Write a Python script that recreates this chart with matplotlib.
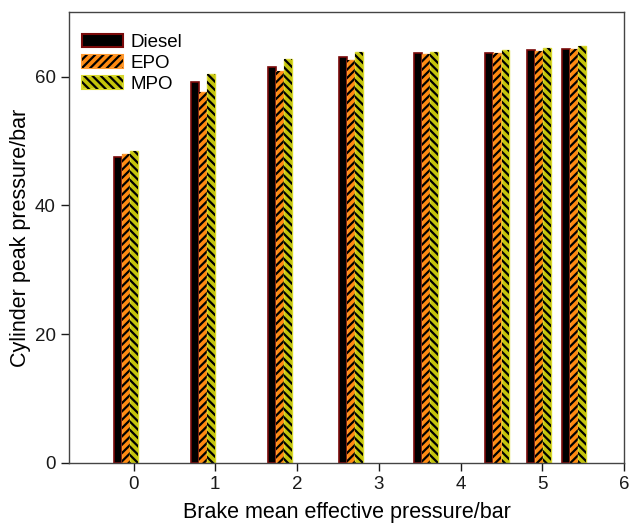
import numpy as np
import matplotlib.pyplot as plt
from matplotlib.patches import Patch
from matplotlib.legend_handler import HandlerTuple

plt.rcParams['font.family'] = ['Liberation Sans', 'DejaVu Sans']
plt.rcParams['hatch.linewidth'] = 1.6

# brake mean effective pressure positions of each group
bmep = np.array([-0.09, 0.85, 1.79, 2.66, 3.58, 4.45, 4.96, 5.39])

# cylinder peak pressure (bar)
diesel = np.array([47.5, 59.2, 61.5, 63.0, 63.6, 63.7, 64.1, 64.3])
epo = np.array([48.0, 57.6, 60.9, 62.6, 63.5, 63.6, 64.0, 64.3])
mpo = np.array([48.5, 60.4, 62.8, 63.8, 63.9, 64.2, 64.4, 64.7])

w = 0.095

fig = plt.figure(figsize=(6.3, 5.24), dpi=100)
ax = fig.add_axes([0.1095, 0.117, 0.881, 0.8595])

# Diesel: solid black bars with dark red outline
ax.bar(bmep - 0.1, diesel, w, color='black', edgecolor='#7a0a0a', linewidth=1.2)
# EPO: orange with hatch
ax.bar(bmep, epo, w, color='#ff8a10', edgecolor='#ff9a30', linewidth=1.0)
ax.bar(bmep, epo, w, color='none', edgecolor='black', linewidth=0, hatch='////')
# MPO: yellow-green with back hatch
ax.bar(bmep + 0.1, mpo, w, color='#c4c40a', edgecolor='#d8d830', linewidth=1.0)
ax.bar(bmep + 0.1, mpo, w, color='none', edgecolor='black', linewidth=0, hatch='\\\\\\\\')

ax.set_xlim(-0.79, 6)
ax.set_ylim(0, 70)
ax.set_xticks(range(7))
ax.set_yticks([0, 20, 40, 60])
ax.tick_params(direction='out', length=6, width=1, labelsize=13.5, colors='#1a1a1a', pad=3.5)
for s in ax.spines.values():
    s.set_color('#444444')
    s.set_linewidth(1)

ax.set_xlabel('Brake mean effective pressure/bar', fontsize=15.5, labelpad=6.5)
ax.set_ylabel('Cylinder peak pressure/bar', fontsize=15.5, labelpad=3)

# legend keys: coloured patch with a black hatch layered on top
handles = [
    Patch(facecolor='black', edgecolor='#7a0a0a', linewidth=1.5),
    (Patch(facecolor='#ff8a10', edgecolor='#ff9a30', linewidth=1.5),
     Patch(facecolor='none', edgecolor='black', linewidth=0, hatch='////')),
    (Patch(facecolor='#c4c40a', edgecolor='#d8d830', linewidth=1.5),
     Patch(facecolor='none', edgecolor='black', linewidth=0, hatch='\\\\\\\\')),
]
ax.legend(handles, ['Diesel', 'EPO', 'MPO'], loc='upper left',
          bbox_to_anchor=(0, 0.982), frameon=False,
          fontsize=13.5, handlelength=2.2, handleheight=0.72, borderaxespad=0.3,
          labelspacing=0.2, handletextpad=0.4,
          handler_map={tuple: HandlerTuple(ndivide=1, pad=0)})

fig.savefig('out.png', dpi=100)
